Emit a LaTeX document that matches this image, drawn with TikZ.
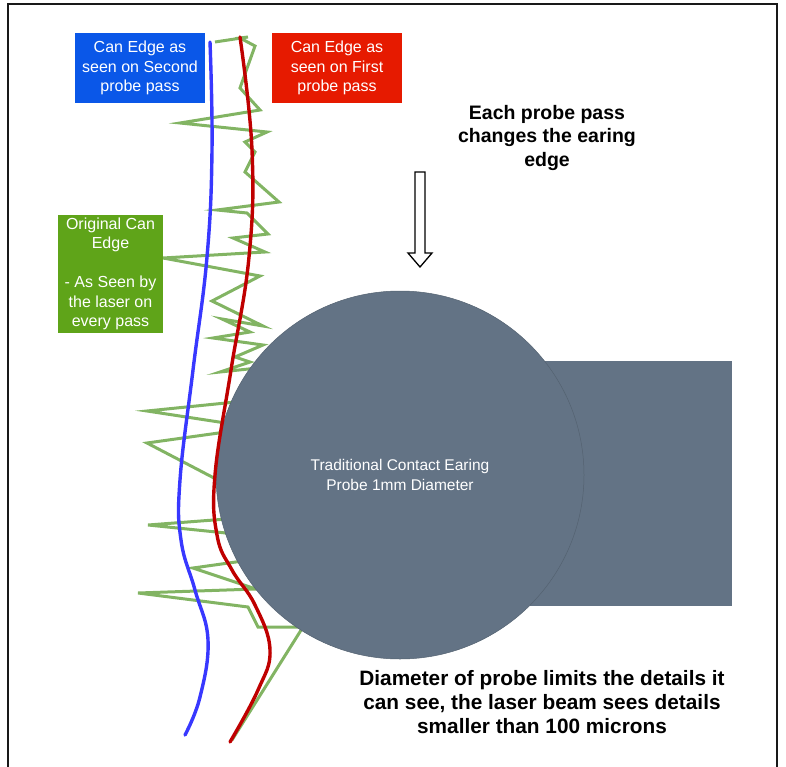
\documentclass[tikz,border=0pt]{standalone}
\usepackage{fontspec}
\setmainfont{Liberation Sans}
\usetikzlibrary{positioning}
\definecolor{probegray}{HTML}{637385}
\definecolor{secondblue}{HTML}{0A57E8}
\definecolor{firstred}{HTML}{E61A00}
\definecolor{origgreen}{HTML}{5FA419}
\definecolor{edgegreen}{HTML}{82B463}
\definecolor{edgeblue}{HTML}{3838FF}
\definecolor{edgered}{HTML}{BF0000}

\begin{document}
\begin{tikzpicture}[
    x=1pt, y=-1pt,
    tag/.style={rectangle, text=white, align=center, inner sep=0pt,
        font=\fontsize{16}{19.5}\selectfont},
    note/.style={align=center, font=\fontsize{19.5}{23.8}\selectfont\bfseries},
    probeline/.style={line width=3.4pt, line cap=round},
    zigzag/.style={edgegreen, line width=3pt, line join=miter}
]
\useasboundingbox (0,0) rectangle (786,767);

% frame, open at the bottom
\draw[black!90, line width=2pt] (8,775) -- (8,4) -- (777,4) -- (777,775);

% original can edge as the laser sees it
\draw[zigzag] (215,42) -- (248,37) -- (240,38) -- (255,46) -- (240,88) -- (260,110)
    -- (180,123) -- (267,132) -- (245,142) -- (255,152) -- (245,172) -- (279,202)
    -- (217,210) -- (247,213) -- (268,234) -- (233,238) -- (265,252) -- (163,258)
    -- (260,276) -- (212,301) -- (263,326) -- (222,319) -- (250,332) -- (213,338)
    -- (263,345) -- (235,357) -- (250,362) -- (220,372) -- (258,368) -- (275,398)
    -- (147,411) -- (232,424) -- (240,430) -- (147,443) -- (214,478) -- (240,518)
    -- (148,525) -- (226,533) -- (250,560) -- (193,568) -- (256,589) -- (138,593)
    -- (248,607) -- (258,627) -- (303,627) -- (232,740);

% probe body and tip
\node[fill=probegray, minimum width=202pt, minimum height=245pt, inner sep=0pt] (body) at (631,483.5) {};
\node[circle, fill=probegray, draw=probegray!85!black, line width=0.5pt, minimum size=368pt,
    text=white, align=center, font=\fontsize{15.5}{20}\selectfont] (probe) at (400,475)
    {Traditional Contact Earing\\Probe 1mm Diameter};

% edge after second pass
\draw[probeline, edgeblue] plot[smooth, tension=0.7] coordinates {(210,42) (212,150) (207,257)
    (193,370) (180,480) (181,540) (195,590) (208,640) (200,697) (185,735)};

% edge after first pass
\draw[probeline, edgered] plot[smooth, tension=0.7] coordinates {(240,37) (252,150) (249,257)
    (231,370) (215,475) (217,535) (232,570) (255,605) (270,650) (258,690) (230,742)};

% labels
\node[tag, fill=secondblue, minimum width=130pt, minimum height=70pt] (second) at (140,68)
    {Can Edge as\\seen on Second\\probe pass};
\node[tag, fill=firstred, minimum width=130pt, minimum height=70pt] (first) at (337,68)
    {Can Edge as\\seen on First\\probe pass};
\node[tag, fill=origgreen, minimum width=105pt, minimum height=118pt] (original) at (110.5,274)
    {Original Can\\Edge\\[19.5pt]- As Seen by\\the laser on\\every pass};

\node[note] (change) at (547,138) {Each probe pass\\changes the earing\\edge};
\node[note, font=\fontsize{20.8}{24}\selectfont\bfseries] (limit) at (542,702)
    {Diameter of probe limits the details it\\can see, the laser beam sees details\\smaller than 100 microns};

% hollow arrow
\draw[black, line width=1.3pt, fill=white] (415,172) -- (425,172) -- (425,253) -- (432,253)
    -- (420,267) -- (408,253) -- (415,253) -- cycle;

\end{tikzpicture}
\end{document}
